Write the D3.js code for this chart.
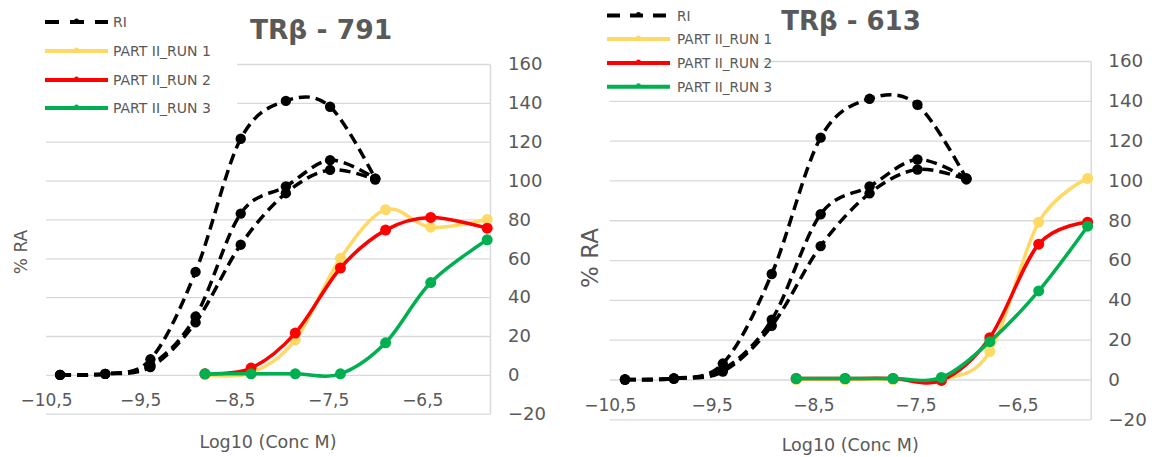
<!DOCTYPE html>
<html><head><meta charset="utf-8">
<script src="https://cdn.jsdelivr.net/npm/d3@7"></script>
<style>
body{margin:0;background:#fff;}
svg{display:block;font-family:"DejaVu Sans",Verdana,sans-serif;}
</style>
</head><body>
<svg id="c" width="1158" height="457"></svg>
<script>
// ---------------- data ----------------
const riX = [-10.35, -9.87, -9.39, -8.91, -8.43, -7.95, -7.48, -7.0];
const riA = [0, 0.5, 8, 53, 121.5, 141, 138, 101];
const riB = [0, 0.5, 5, 30, 83, 97, 110.5, 101];
const riC = [0, 0.5, 4, 27, 67, 93.5, 105.5, 100.5];

const runXLeft = [-8.81, -8.32, -7.85, -7.37, -6.89, -6.41, -5.81];
const run1Left = [0, 1, 18, 60, 85, 76, 80];
const run2Left = [0.5, 3.5, 21.5, 55, 74.5, 81, 75.5];
const run3Left = [0.5, 0.5, 0.5, 0.5, 16.5, 47.5, 69.5];

const runXRight = [-8.67, -8.19, -7.72, -7.245, -6.77, -6.29, -5.81];
const run1Right = [0, 0, 0, 0, 14, 79, 101];
const run2Right = [0.5, 0.5, 0.5, -0.5, 21, 68, 79];
const run3Right = [0.5, 0.5, 0.5, 1, 19, 44.5, 77];

const xTicks = [-10.5, -9.5, -8.5, -7.5, -6.5];
const yTicks = [-20, 0, 20, 40, 60, 80, 100, 120, 140, 160];
const xDomain = [-10.5, -5.78];
const yDomain = [-20, 160];

const seriesNames = ["RI", "PART II_RUN 1", "PART II_RUN 2", "PART II_RUN 3"];
const seriesColors = ["#000000", "#FFD966", "#FF0000", "#00B050"];
const chartTitles = ["TRβ - 791", "TRβ - 613"];
const xTitle = "Log10 (Conc M)";
const yTitle = "% RA";

// ---------------- drawing ----------------
const svg = d3.select("#c");
const GRID = "#D9D9D9", TXT = "#595959";
const fmt = v => (v < 0 ? "\u2212" : "") + String(Math.abs(v)).replace(".", ",");

function drawChart(cfg) {
  const x = d3.scaleLinear().domain(xDomain).range([cfg.x0, cfg.x1]);
  const y = d3.scaleLinear().domain(yDomain).range([cfg.yBot, cfg.yTop]);
  const g = svg.append("g");

  // gridlines
  g.append("g").attr("transform", `translate(${cfg.x0},0)`)
    .call(d3.axisLeft(y).tickValues(yTicks).tickSize(-(cfg.x1 - cfg.x0)).tickFormat(""))
    .call(s => s.select(".domain").remove())
    .call(s => s.selectAll("line").attr("stroke", GRID).attr("stroke-width", 1.3));

  // right vertical axis with labels
  g.append("g").attr("transform", `translate(${cfg.x1},0)`)
    .call(d3.axisRight(y).tickValues(yTicks).tickSize(0).tickPadding(cfg.yPad).tickFormat(fmt))
    .call(s => s.select(".domain").attr("stroke", GRID).attr("stroke-width", 1.5))
    .call(s => s.selectAll("text").attr("fill", TXT).attr("font-size", cfg.yFont)
      .attr("font-family", '"DejaVu Sans",Verdana,sans-serif'));

  // x labels (axis crossing at 0)
  g.append("g").attr("transform", `translate(0,${y(0)})`)
    .call(d3.axisBottom(x).tickValues(xTicks).tickSize(0).tickPadding(cfg.xPad).tickFormat(fmt))
    .call(s => s.select(".domain").remove())
    .call(s => s.selectAll("text").attr("fill", TXT).attr("font-size", cfg.xFont)
      .attr("font-family", '"DejaVu Sans",Verdana,sans-serif'));

  // axis titles
  g.append("text").attr("x", (cfg.x0 + cfg.x1) / 2).attr("y", cfg.xtY)
    .attr("text-anchor", "middle").attr("fill", TXT).attr("font-size", cfg.xtFont).text(xTitle);
  g.append("text").attr("transform", `translate(${cfg.ytX},${cfg.ytY}) rotate(-90)`)
    .attr("text-anchor", "middle").attr("dominant-baseline", "central")
    .attr("fill", TXT).attr("font-size", cfg.ytFont).text(yTitle);

  // title
  g.append("text").attr("x", cfg.titleX).attr("y", cfg.titleY).attr("text-anchor", "middle")
    .attr("fill", TXT).attr("font-weight", "bold").attr("font-size", cfg.titleFont).text(cfg.title);

  const line = d3.line().x(d => x(d[0])).y(d => y(d[1])).curve(d3.curveCatmullRom.alpha(0));

  // RI curves
  [riA, riB, riC].forEach(vals => {
    const pts = riX.map((v, i) => [v, vals[i]]);
    g.append("path").attr("d", line(pts)).attr("fill", "none")
      .attr("stroke", seriesColors[0]).attr("stroke-width", 3.5).attr("stroke-dasharray", "11,6");
    g.selectAll(null).data(pts).enter().append("circle")
      .attr("cx", d => x(d[0])).attr("cy", d => y(d[1])).attr("r", 5.2).attr("fill", seriesColors[0]);
  });

  // runs
  cfg.runs.forEach((vals, k) => {
    const pts = cfg.runX.map((v, i) => [v, vals[i]]);
    const col = seriesColors[k + 1];
    g.append("path").attr("d", line(pts)).attr("fill", "none")
      .attr("stroke", col).attr("stroke-width", 3.5);
    g.selectAll(null).data(pts).enter().append("circle")
      .attr("cx", d => x(d[0])).attr("cy", d => y(d[1])).attr("r", 5.5).attr("fill", col);
  });

  // legend
  const lg = g.append("g");
  lg.append("rect").attr("x", cfg.leg.bx).attr("y", cfg.leg.by).attr("width", cfg.leg.bw)
    .attr("height", cfg.leg.bh).attr("fill", "#fff");
  seriesNames.forEach((name, i) => {
    const yy = cfg.leg.rows[i];
    lg.append("line").attr("x1", cfg.leg.lx0).attr("x2", cfg.leg.lx1).attr("y1", yy).attr("y2", yy)
      .attr("stroke", seriesColors[i]).attr("stroke-width", 4)
      .attr("stroke-dasharray", i === 0 ? cfg.leg.dash : null);
    lg.append("circle").attr("cx", (cfg.leg.lx0 + cfg.leg.lx1) / 2).attr("cy", yy - 1)
      .attr("r", 2.4).attr("fill", seriesColors[i]);
    lg.append("text").attr("x", cfg.leg.tx).attr("y", yy).attr("dominant-baseline", "central")
      .attr("fill", TXT).attr("font-size", cfg.leg.font).text(name);
  });
}

drawChart({
  x0: 46, x1: 490, yTop: 64, yBot: 413.7,
  yPad: 18, yFont: 18, xPad: 19, xFont: 17,
  xtY: 448, xtFont: 17.5, ytX: 21, ytY: 252, ytFont: 17,
  titleX: 321, titleY: 39, titleFont: 26.5, title: chartTitles[0],
  runX: runXLeft, runs: [run1Left, run2Left, run3Left],
  leg: { bx: 38, by: 6, bw: 199, bh: 114, rows: [22, 51, 80, 108], lx0: 45, lx1: 108, tx: 113,
         font: 14, dash: "14,11" }
});

drawChart({
  x0: 609.7, x1: 1090.7, yTop: 61, yBot: 419.3,
  yPad: 17.6, yFont: 18.3, xPad: 19.5, xFont: 17,
  xtY: 451, xtFont: 17.5, ytX: 590, ytY: 258, ytFont: 23,
  titleX: 851, titleY: 30, titleFont: 26, title: chartTitles[1],
  runX: runXRight, runs: [run1Right, run2Right, run3Right],
  leg: { bx: 600, by: 2, bw: 163, bh: 95, rows: [15.5, 39, 63, 86.7], lx0: 607, lx1: 670, tx: 677,
         font: 13.6, dash: "13,10" }
});
</script>
</body></html>
